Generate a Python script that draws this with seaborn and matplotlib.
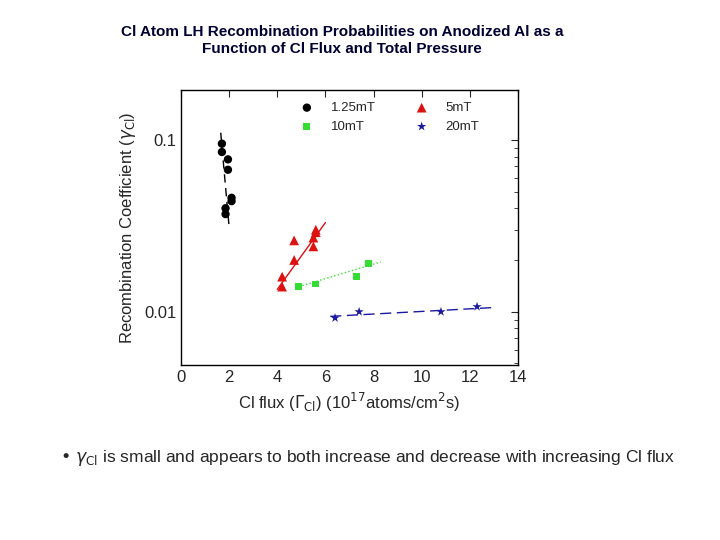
import numpy as np
import pandas as pd
import matplotlib
matplotlib.use("Agg")
import matplotlib.pyplot as plt
import seaborn as sns

# Data
flux_125 = [1.7, 1.7, 1.95, 1.95, 2.1, 2.1, 1.85, 1.85]
gamma_125 = [0.095, 0.085, 0.077, 0.067, 0.046, 0.044, 0.040, 0.037]
flux_5 = [4.2, 4.2, 4.7, 4.7, 5.5, 5.5, 5.6, 5.6]
gamma_5 = [0.016, 0.014, 0.026, 0.020, 0.027, 0.024, 0.029, 0.030]
flux_10 = [4.9, 5.6, 7.3, 7.8]
gamma_10 = [0.014, 0.0145, 0.016, 0.019]
flux_20 = [6.4, 7.4, 10.8, 12.3]
gamma_20 = [0.0092, 0.010, 0.010, 0.0107]

# fit-line endpoints
fit_125 = ([1.65, 2.0], [0.11, 0.031])
fit_5 = ([4.0, 6.0], [0.0135, 0.033])
fit_10 = ([4.9, 8.3], [0.014, 0.0195])
fit_20 = ([6.2, 13.1], [0.0094, 0.0106])

sns.set_style("white")
plt.rcParams['font.family'] = ['Liberation Sans', 'DejaVu Sans']

fig = plt.figure(figsize=(7.2, 5.4), dpi=100)
ax = fig.add_axes([181 / 720, 1 - 365 / 540, 337 / 720, 275 / 540])

series = [
    ("1.25mT", flux_125, gamma_125, fit_125, "black", "o", 6, (0, (6, 4))),
    ("5mT", flux_5, gamma_5, fit_5, "#dd1111", "^", 7, "-"),
    ("10mT", flux_10, gamma_10, fit_10, "#33dd33", "s", 5, ":"),
    ("20mT", flux_20, gamma_20, fit_20, "#1a1aa0", "*", 7, (0, (8, 4))),
]
for name, xs, ys, fit, color, marker, size, ls in series:
    df = pd.DataFrame({"x": xs, "y": ys})
    sns.scatterplot(data=df, x="x", y="y", ax=ax, color=color, marker=marker,
                    s=size ** 2, edgecolor="none", label=name)
    ax.plot(fit[0], fit[1], color=color, lw=1, ls=ls)

ax.set_yscale("log")
ax.set_xlim(0, 14)
ax.set_ylim(0.0049, 0.195)
ax.set_xticks(range(0, 15, 2))
ax.set_yticks([0.01, 0.1])
ax.set_yticklabels(["0.01", "0.1"])
ax.tick_params(labelsize=12, direction="in", top=True, right=True, length=5)
ax.tick_params(which="minor", direction="in", right=True, length=3)
for s in ax.spines.values():
    s.set_color("black")
    s.set_linewidth(1)
ax.set_xlabel(r"Cl flux ($\Gamma_{\mathrm{Cl}}$) (10$^{17}$atoms/cm$^2$s)", fontsize=12)
ax.set_ylabel(r"Recombination Coefficient ($\gamma_{\mathrm{Cl}}$)", fontsize=12)

handles, labels = ax.get_legend_handles_labels()
order = [0, 2, 1, 3]
ax.legend([handles[i] for i in order], [labels[i] for i in order],
          ncol=2, loc="upper right", bbox_to_anchor=(0.92, 1.0),
          fontsize=9.5, frameon=False, handletextpad=0.8, columnspacing=2.5)

fig.text(0.475, 0.925, "Cl Atom LH Recombination Probabilities on Anodized Al as a\nFunction of Cl Flux and Total Pressure",
         ha="center", va="center", fontsize=11, fontweight="bold", color="#000033")
fig.text(60 / 720, 1 - 458 / 540,
         r"• $\gamma_{\mathrm{Cl}}$ is small and appears to both increase and decrease with increasing Cl flux",
         ha="left", va="center", fontsize=12.5)

fig.savefig("out.png", dpi=100)
